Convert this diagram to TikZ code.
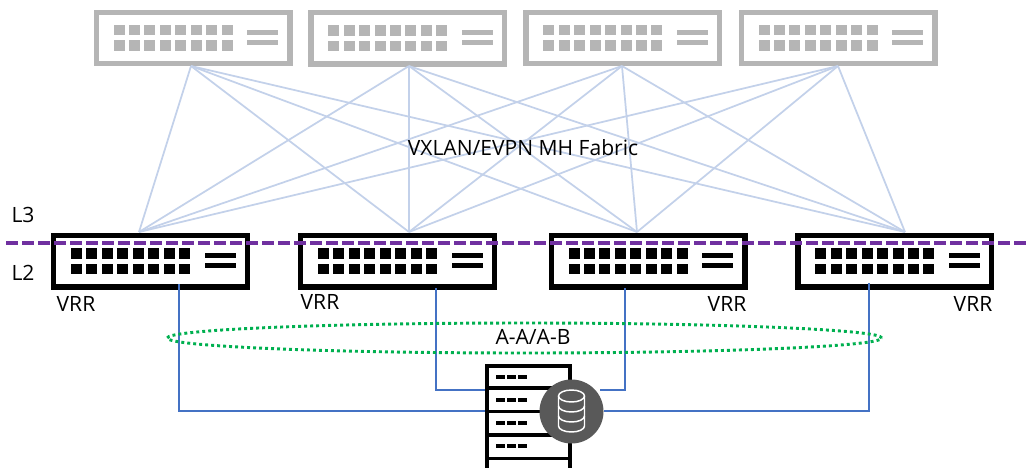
\documentclass[tikz,border=0pt]{standalone}
\usepackage{fontspec}
\usetikzlibrary{shapes.geometric}
\setmainfont{Open Sans}
\definecolor{linkblue}{HTML}{C3D1EA}
\definecolor{wireblue}{HTML}{4472C4}
\definecolor{purpleline}{HTML}{7030A0}
\definecolor{greenring}{HTML}{00B050}
\definecolor{graysw}{HTML}{B5B5B5}
\definecolor{dbgray}{HTML}{595959}
\tikzset{
  switchbox/.style={draw=#1,line width=4pt,fill=white,minimum width=145.25pt,minimum height=38.4pt,inner sep=0pt,rectangle,anchor=north west},
  fabriclink/.style={draw=linkblue,line width=1.3pt},
  wire/.style={draw=wireblue,line width=1.5pt},
  txt/.style={font=\fontsize{15.8}{18}\selectfont,text=black,inner sep=0pt},
  srvline/.style={draw=black,line width=2.7pt},
  dbline/.style={draw=white,line width=1.1pt},
}
% \swt{name}{left}{top}{colour}: outer box 199x56.5
\newcommand{\swt}[4]{%
  \node[switchbox=#4] (#1) at (#2,#3) {};
  \foreach \i in {0,...,7}{
    \fill[#4] (#2+20+\i*15.45,#3+15.3) rectangle ++(11,10.5);
    \fill[#4] (#2+20+\i*15.45,#3+30.7) rectangle ++(11,10.5);
  }
  \fill[#4] (#2+153.5,#3+20) rectangle ++(31,5);
  \fill[#4] (#2+153.5,#3+30.3) rectangle ++(31,5);
}
\begin{document}
\begin{tikzpicture}[x=0.75pt,y=-0.75pt]
\useasboundingbox[fill=white] (0,0) rectangle (1035,468);
% switches
\swt{t1}{93.5}{9.5}{graysw}
\swt{t2}{308.2}{10}{graysw}
\swt{t3}{523.3}{9.5}{graysw}
\swt{t4}{738.5}{9.5}{graysw}
\swt{b1}{51}{233}{black}
\swt{b2}{298}{233}{black}
\swt{b3}{548.5}{233}{black}
\swt{b4}{795.3}{233}{black}
% attachment points
\coordinate (a1) at (139,232);
\coordinate (a2) at (409,232);
\coordinate (a3) at (637,232);
\coordinate (a4) at (905,232);
\coordinate (d1) at (179,284);
\coordinate (d2) at (436,288);
\coordinate (d3) at (625,288);
\coordinate (d4) at (868.5,283);
\coordinate (u1) at (191,66);
\coordinate (u2) at (409,66);
\coordinate (u3) at (622,66);
\coordinate (u4) at (838,66);
% fabric
\foreach \s in {u1,u2,u3,u4}
  \foreach \e in {a1,a2,a3,a4}
    \draw[fabriclink] (\s) -- (\e);
% server
\coordinate (s1) at (486,411);
\coordinate (s2) at (486,389.5);
\coordinate (s3) at (600,389.5);
\draw[wire] (d1) |- (s1);
\draw[wire] (d2) |- (s2);
\draw[wire] (d3) |- (s3);
\node[draw=black,line width=2.7pt,fill=white,rectangle,minimum width=62.6pt,minimum height=69.4pt,inner sep=0pt,anchor=north west] (srv) at (485,364) {};
\draw[srvline] (486.7,388) -- (570.5,388) (486.7,411.5) -- (570.5,411.5) (486.7,435) -- (570.5,435);
\draw[srvline] (486.8,458) -- (486.8,468) (570.2,458) -- (570.2,468);
\foreach \yy in {376.7,399.7,423,446}
  \foreach \xx in {496,507,518}
    \fill[black] (\xx,\yy-2) rectangle ++(9,4);
\node[circle,fill=dbgray,minimum size=48pt,inner sep=0pt] (db) at (571.5,411.5) {};
\coordinate (s4) at (db.east);
\draw[wire] (s4 |- s1) -| (d4);
% database icon
\begin{scope}[shift={(db.center)}]
  \draw[dbline] (0,-15.5) ellipse (13 and 6);
  \draw[dbline] (-13,-15.5) -- (-13,14.5) arc[start angle=180,end angle=0,x radius=13,y radius=6] -- (13,-15.5);
  \draw[dbline] (-13,-5.5) arc[start angle=180,end angle=0,x radius=13,y radius=6];
  \draw[dbline] (-13,4.5) arc[start angle=180,end angle=0,x radius=13,y radius=6];
\end{scope}
% L2/L3 boundary
\coordinate (p1) at (6,243);
\coordinate (p2) at (1026,243);
\draw[purpleline,line width=3pt,dash pattern=on 9pt off 3pt] (p1) -- (p2);
% A-A ring
\node[ellipse,draw=greenring,line width=2.2pt,dash pattern=on 2.2pt off 2.3pt,minimum width=536pt,minimum height=22.5pt,inner sep=0pt] (ring) at (524.5,338) {};
\node[txt] (lf) at (523,148) {VXLAN/EVPN MH Fabric};
\node[txt] (l3) at (23,215) {L3};
\node[txt] (l2) at (23,273) {L2};
\node[txt] (v1) at (76,304) {VRR};
\node[txt] (v2) at (320,302) {VRR};
\node[txt] (v3) at (727,304) {VRR};
\node[txt] (v4) at (973,304) {VRR};
\node[txt] (aa) at (533,337) {A-A/A-B};
\end{tikzpicture}
\end{document}
